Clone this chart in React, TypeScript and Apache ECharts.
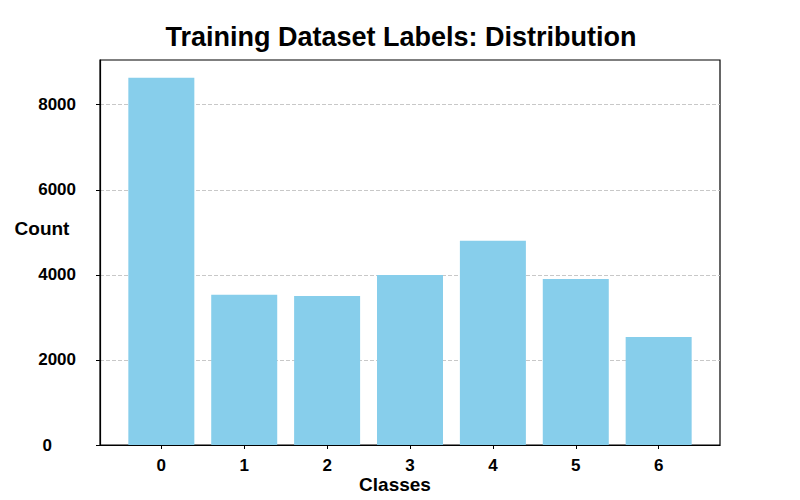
import React, { useEffect, useRef } from "react";
import * as echarts from "echarts";

const classes = [0, 1, 2, 3, 4, 5, 6];
const counts = [8630, 3530, 3505, 3995, 4800, 3905, 2540];
const yTicks = [0, 2000, 4000, 6000, 8000];
const titleText = "Training Dataset Labels: Distribution";
const xName = "Classes";
const yName = "Count";

export default function App() {
  const ref = useRef<HTMLDivElement>(null);
  useEffect(() => {
    if (!ref.current) return;
    const chart = echarts.init(ref.current, null, { renderer: "svg" });
    const font = "Liberation Sans, Arial, sans-serif";
    chart.setOption({
      animation: false,
      backgroundColor: "#ffffff",
      grid: {
        left: 100,
        top: 60,
        width: 620,
        height: 385,
        show: true,
        borderColor: "#000",
        borderWidth: 1.2,
        backgroundColor: "transparent",
      },
      xAxis: {
        type: "value",
        min: -0.74,
        max: 6.74,
        axisLine: { show: true, onZero: false, lineStyle: { color: "#000", width: 1.2 } },
        axisTick: { show: true, customValues: classes, length: 4, lineStyle: { color: "#000" } },
        axisLabel: {
          customValues: classes,
          margin: 12,
          fontSize: 17,
          fontWeight: "bold",
          color: "#000",
          fontFamily: font,
        },
        splitLine: { show: false },
      },
      yAxis: {
        type: "value",
        min: 0,
        max: 9050,
        axisLine: { show: true, onZero: false, lineStyle: { color: "#000", width: 1.2 } },
        axisTick: { show: true, customValues: yTicks, length: 4, lineStyle: { color: "#000" } },
        axisLabel: {
          customValues: yTicks,
          margin: 24,
          fontSize: 17,
          fontWeight: "bold",
          color: "#000",
          fontFamily: font,
          formatter: (v: number) => (v === 0 ? "{z|0}" : String(v)),
          rich: {
            z: { fontSize: 17, fontWeight: "bold", color: "#000", fontFamily: font, padding: [0, 24, 0, 0] },
          },
        },
        splitLine: { show: true, lineStyle: { color: "#c8c8c8", type: [4, 2], width: 1 } },
        interval: 2000,
      },
      series: [
        {
          type: "bar",
          data: classes.map((c, i) => [c, counts[i]]),
          barWidth: 66,
          itemStyle: { color: "#87CEEB" },
        },
      ],
      graphic: [
        {
          type: "text",
          x: 401,
          y: 37,
          style: {
            text: titleText,
            fontSize: 27,
            fontWeight: "bold",
            fill: "#000",
            fontFamily: font,
            align: "center",
            verticalAlign: "middle",
          },
        },
        {
          type: "text",
          x: 42,
          y: 228,
          style: {
            text: yName,
            fontSize: 19,
            fontWeight: "bold",
            fill: "#000",
            fontFamily: font,
            align: "center",
            verticalAlign: "middle",
          },
        },
        {
          type: "text",
          x: 395,
          y: 484,
          style: {
            text: xName,
            fontSize: 19,
            fontWeight: "bold",
            fill: "#000",
            fontFamily: font,
            align: "center",
            verticalAlign: "middle",
          },
        },
      ],
    });
    return () => chart.dispose();
  }, []);
  return <div ref={ref} style={{ width: 800, height: 500, position: "absolute", left: 0, top: 0 }} />;
}
